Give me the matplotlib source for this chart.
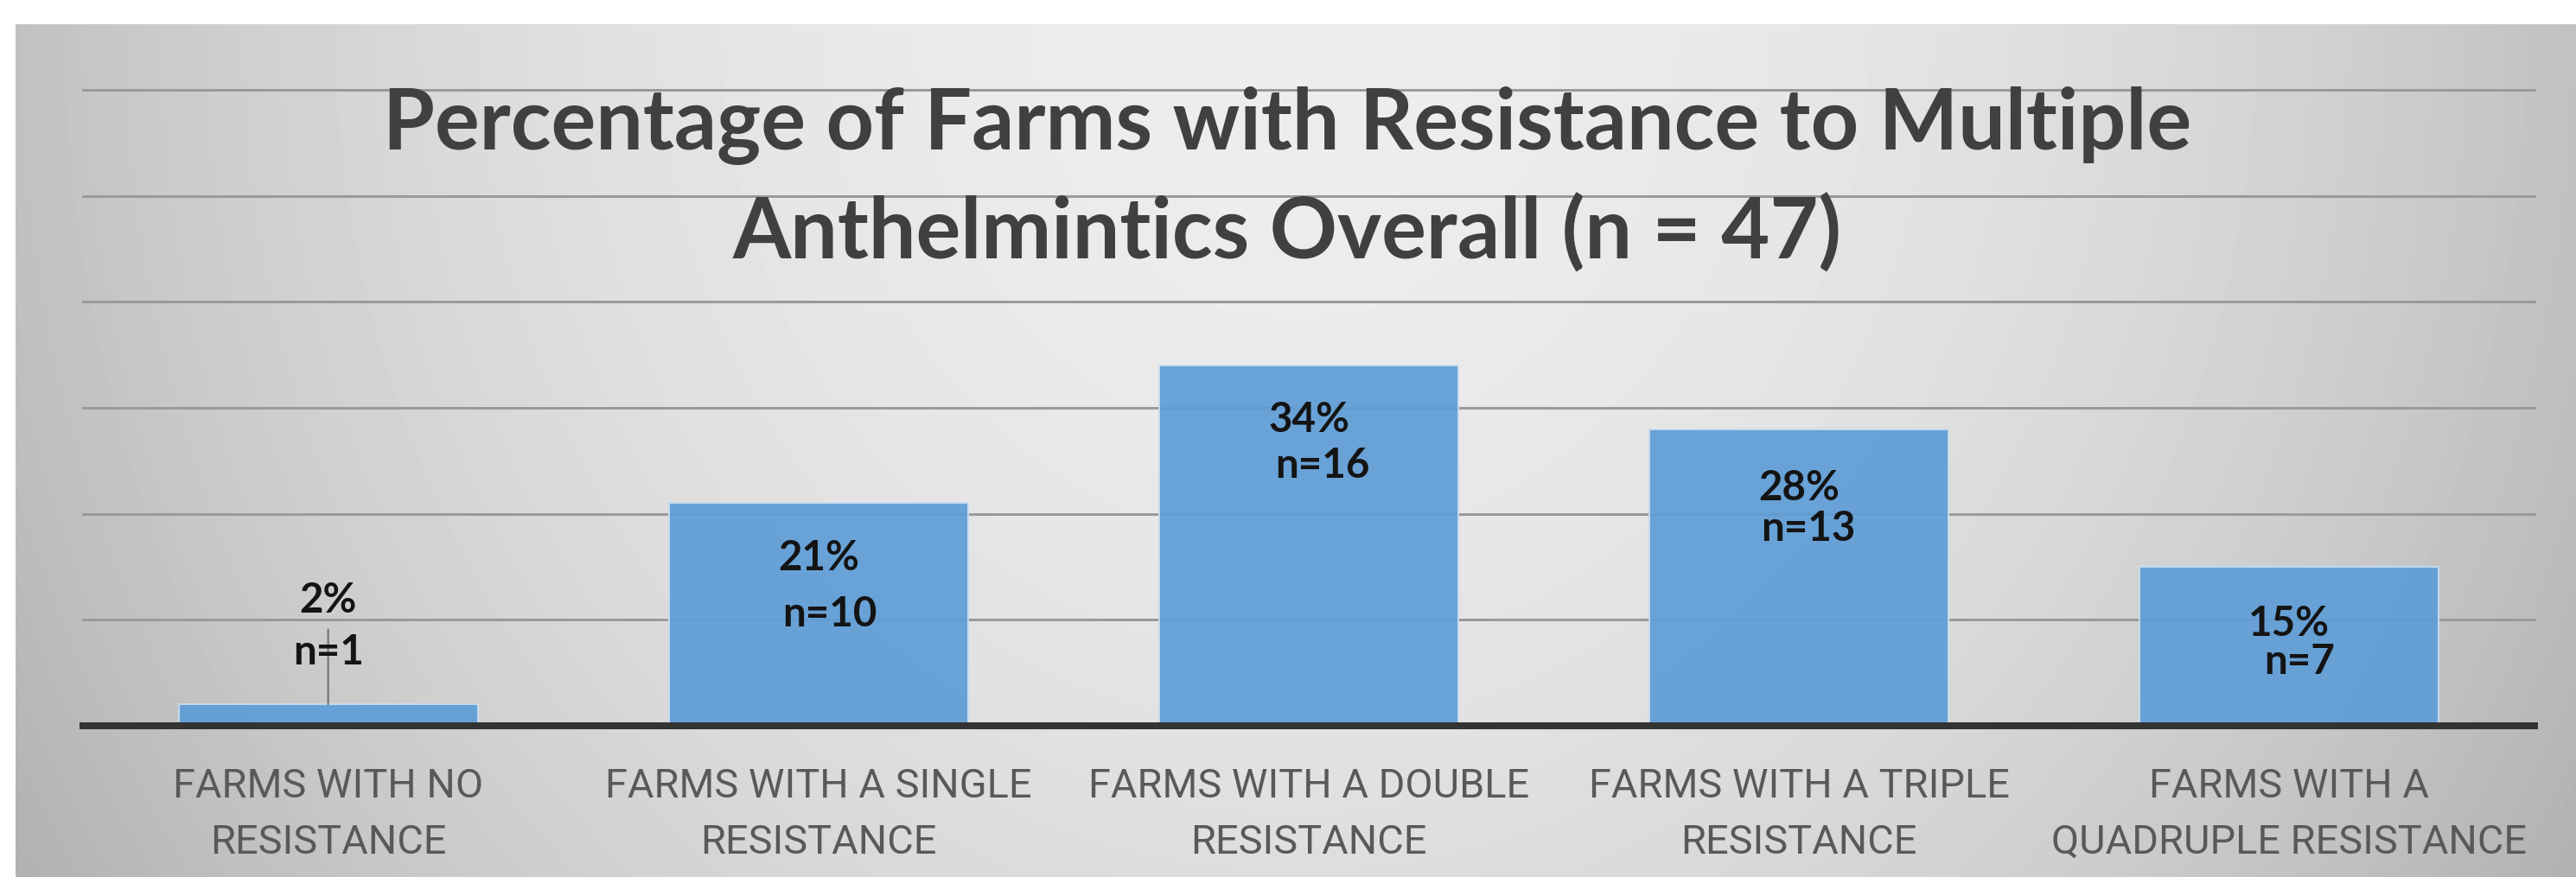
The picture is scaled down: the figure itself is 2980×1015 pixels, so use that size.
import matplotlib
matplotlib.use("Agg")
import matplotlib.pyplot as plt
import matplotlib.transforms as mtransforms
import numpy as np

# ---------------- data ----------------
categories = [
    "FARMS WITH NO\nRESISTANCE",
    "FARMS WITH A SINGLE\nRESISTANCE",
    "FARMS WITH A DOUBLE\nRESISTANCE",
    "FARMS WITH A TRIPLE\nRESISTANCE",
    "FARMS WITH A\nQUADRUPLE RESISTANCE",
]
percent = [2, 21, 34, 28, 15]
counts = [1, 10, 16, 13, 7]
pct_labels = ["2%", "21%", "34%", "28%", "15%"]
n_labels = ["n=1", "n=10", "n=16", "n=13", "n=7"]
title_lines = ["Percentage of Farms with Resistance to Multiple",
               "Anthelmintics Overall (n = 47)"]
yticks = [0, 10, 20, 30, 40, 50, 60]

# ---------------- layout (pixels) ----------------
W, H = 2980, 1015
DPI = 100
px2pt = 72.0 / DPI
lab1_dy = [-106, 78, 77, 82, 80]
lab2_dy = [-46, 143, 130, 129, 124]
lab2_dx = [0, 13, 16, 11, 12]

fig = plt.figure(figsize=(W / DPI, H / DPI), dpi=DPI, facecolor="white")

# gradient background
bg = fig.add_axes([18 / W, 0, 1 - 18 / W, (H - 28) / H], zorder=-10)
gx = np.linspace(0, 1, 800)
gy = np.linspace(0, 1, 300)
GX, GY = np.meshgrid(gx, gy)
val = 237 - 44 * ((GX - 0.5) / 0.5) ** 2 - 16 * GY ** 2
bg.imshow(val / 255.0, cmap="gray", vmin=0, vmax=1, aspect="auto",
          extent=[0, 1, 0, 1], origin="upper", interpolation="bilinear")
bg.axis("off")

# main axes
ax = fig.add_axes([96 / W, (H - 840) / H, (2932 - 96) / W, (840 - 104) / H])
ax.patch.set_alpha(0)
x = np.arange(len(categories))
ax.set_xlim(-0.5, len(categories) - 0.5)
ax.set_ylim(yticks[0], yticks[-1])
for s in ax.spines.values():
    s.set_visible(False)
ax.set_yticks([])
ax.set_xticks([])

for t in yticks[1:]:
    ax.axhline(t, color="#9a9a9a", lw=3 * px2pt, zorder=1, clip_on=False)

ax.bar(x, percent, width=0.61, color="#5f9dd6", alpha=0.93,
       edgecolor="#c8ddf0", linewidth=2 * px2pt, zorder=2)
ax.axhline(0, color="#333333", lw=8 * px2pt, zorder=3, clip_on=False)

ax.annotate("", xy=(x[0], percent[0]), xytext=(0, 87 * px2pt),
            textcoords="offset points",
            arrowprops=dict(arrowstyle="-", color="#6f6f6f", lw=2 * px2pt,
                            shrinkA=0, shrinkB=0), zorder=4)

fig.canvas.draw()
rend = fig.canvas.get_renderer()


def fit_w(txt, target_px):
    bb = txt.get_window_extent(renderer=rend)
    txt.set_fontsize(txt.get_fontsize() * target_px / bb.width)
    return txt.get_fontsize()


# data labels (bold, cap height ~34 px)
lab_font = dict(family=["Lato", "DejaVu Sans"], fontweight="bold", color="#141414")
lab_size = 34 / 0.7165 * px2pt
for i in range(len(percent)):
    ax.annotate(pct_labels[i], xy=(x[i], percent[i]), xytext=(0, -lab1_dy[i] * px2pt),
                textcoords="offset points", ha="center", va="baseline",
                fontsize=lab_size, zorder=5, **lab_font)
    ax.annotate(n_labels[i], xy=(x[i], percent[i]),
                xytext=(lab2_dx[i] * px2pt, -lab2_dy[i] * px2pt),
                textcoords="offset points", ha="center", va="baseline",
                fontsize=lab_size, zorder=5, **lab_font)

# category labels
trans = mtransforms.blended_transform_factory(ax.transData, fig.transFigure)
cat_font = dict(family=["Roboto", "DejaVu Sans"], color="#595959")
cat_size = 33.3 / 0.711 * px2pt
for i, c in enumerate(categories):
    l1, l2 = c.split("\n")
    ax.text(x[i], (H - 923) / H, l1, transform=trans, ha="center", va="baseline",
            fontsize=cat_size, **cat_font)
    ax.text(x[i], (H - 988) / H, l2, transform=trans, ha="center", va="baseline",
            fontsize=cat_size, **cat_font)

# title
title_font = dict(family=["Lato", "DejaVu Sans"], fontweight="bold", color="#404040")
t1 = fig.text(1489 / W, (H - 173) / H, title_lines[0], ha="center", va="baseline",
              fontsize=60, zorder=10, **title_font)
tsize = fit_w(t1, 2092)
fig.text(1489 / W, (H - 300) / H, title_lines[1], ha="center", va="baseline",
         fontsize=tsize, zorder=10, **title_font)

fig.savefig("out.png", dpi=DPI, facecolor="white")
